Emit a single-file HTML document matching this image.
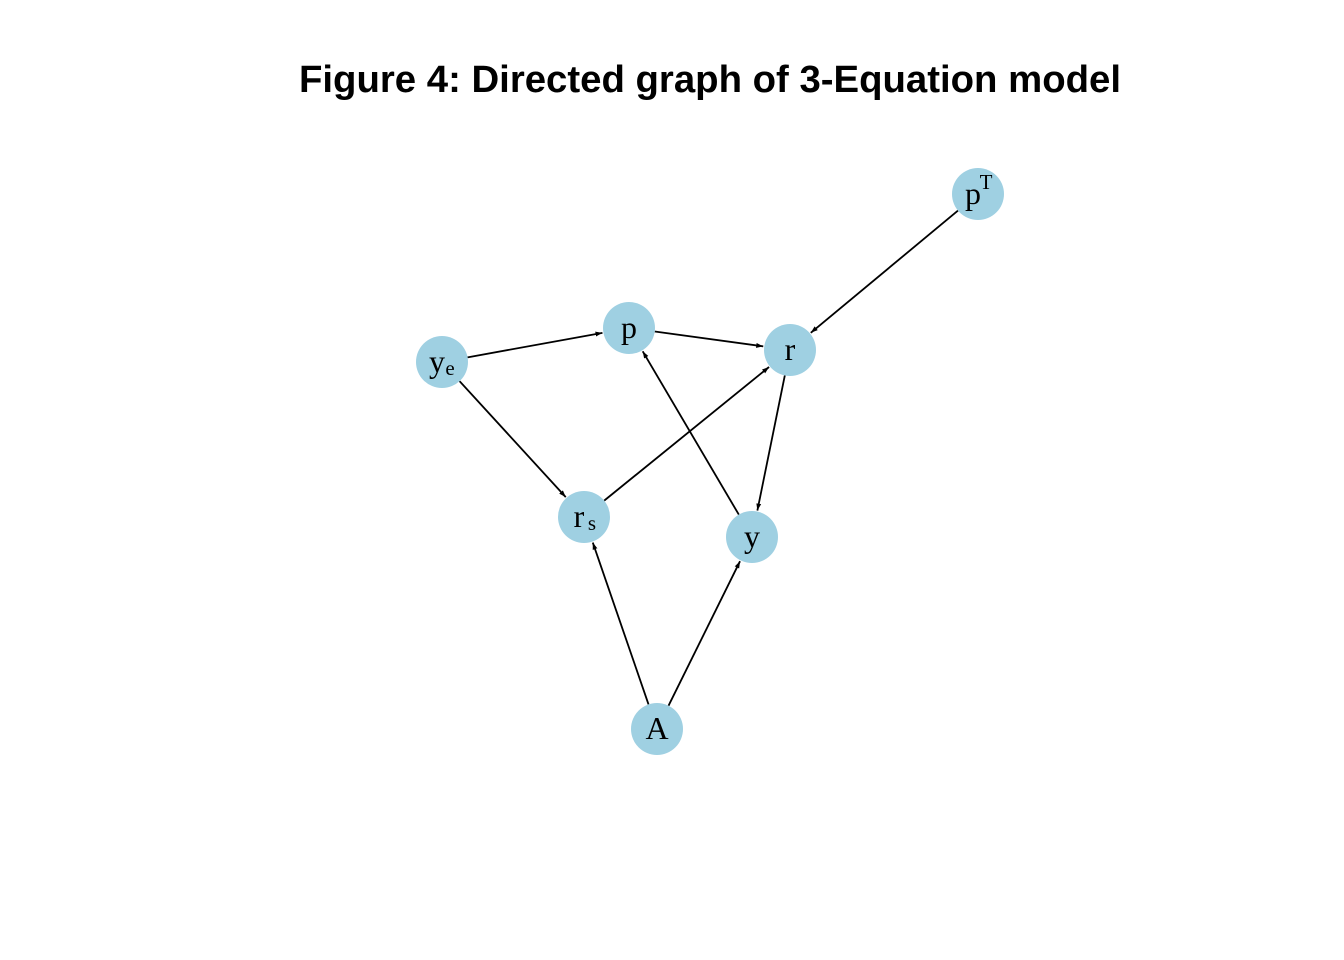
<!DOCTYPE html>
<html><head><meta charset="utf-8"><style>
body{margin:0;background:#fff;}
svg{display:block;}
</style></head><body>
<svg id="g" width="1344" height="960">
<defs><marker id="ah" viewBox="0 0 10 10" refX="10" refY="5" markerWidth="7" markerHeight="7" orient="auto" markerUnits="userSpaceOnUse"><path d="M0,1.5 L10,5 L0,8.5 z" fill="#000"/></marker></defs>
<text x="299" y="92" textLength="822" lengthAdjust="spacingAndGlyphs" font-family="Liberation Sans, sans-serif" font-weight="bold" font-size="38">Figure 4: Directed graph of 3-Equation model</text>
<g id="edges"></g><g id="nodes"></g>
</svg>
<script>
const nodeIds = ["pT","p","r","ye","rs","y","A"];
const nodeX = [978,629,790,442,584,752,657];
const nodeY = [194,328,350,362,517,537,729];
const edgeFrom = ["ye","p","pT","ye","rs","y","r","A","A"];
const edgeTo = ["p","r","r","rs","r","p","y","rs","y"];
const R = 26, NS = "http://www.w3.org/2000/svg";
const eg = document.getElementById("edges"), ng = document.getElementById("nodes");
const idx = id => nodeIds.indexOf(id);
edgeFrom.forEach((f,i)=>{
  const a=idx(f), b=idx(edgeTo[i]);
  const dx=nodeX[b]-nodeX[a], dy=nodeY[b]-nodeY[a], d=Math.hypot(dx,dy);
  const ux=dx/d, uy=dy/d;
  const l=document.createElementNS(NS,"line");
  l.setAttribute("x1",nodeX[a]+ux*R); l.setAttribute("y1",nodeY[a]+uy*R);
  l.setAttribute("x2",nodeX[b]-ux*(R+1)); l.setAttribute("y2",nodeY[b]-uy*(R+1));
  l.setAttribute("stroke","#000"); l.setAttribute("stroke-width","1.8");
  l.setAttribute("marker-end","url(#ah)");
  
  
  eg.appendChild(l);
});
const labelMain = {pT:"p",p:"p",r:"r",ye:"y",rs:"r",y:"y",A:"A"};
const labelSub = {ye:"e",rs:"s"};
const labelSup = {pT:"T"};
nodeIds.forEach((id,i)=>{
  const c=document.createElementNS(NS,"circle");
  c.setAttribute("cx",nodeX[i]); c.setAttribute("cy",nodeY[i]); c.setAttribute("r",R);
  c.setAttribute("fill","#9fd0e2");
  
  
  ng.appendChild(c);
  const t=document.createElementNS(NS,"text");
  const hasX = labelSub[id]||labelSup[id];
  t.setAttribute("x",nodeX[i]-(hasX?5:0)); t.setAttribute("y",nodeY[i]+10);
  t.setAttribute("text-anchor","middle");
  t.setAttribute("font-family","Liberation Serif, serif"); t.setAttribute("font-size","32");
  t.textContent=labelMain[id];
  
  
  ng.appendChild(t);
  if(hasX){
    const s=document.createElementNS(NS,"text");
    s.setAttribute("x",nodeX[i]+8);
    s.setAttribute("y",labelSub[id]?nodeY[i]+13:nodeY[i]-5);
    s.setAttribute("text-anchor","middle");
    s.setAttribute("font-family","Liberation Serif, serif"); s.setAttribute("font-size","21");
    s.textContent=labelSub[id]||labelSup[id];
    
    
    ng.appendChild(s);
  }
});
</script>
</body></html>
